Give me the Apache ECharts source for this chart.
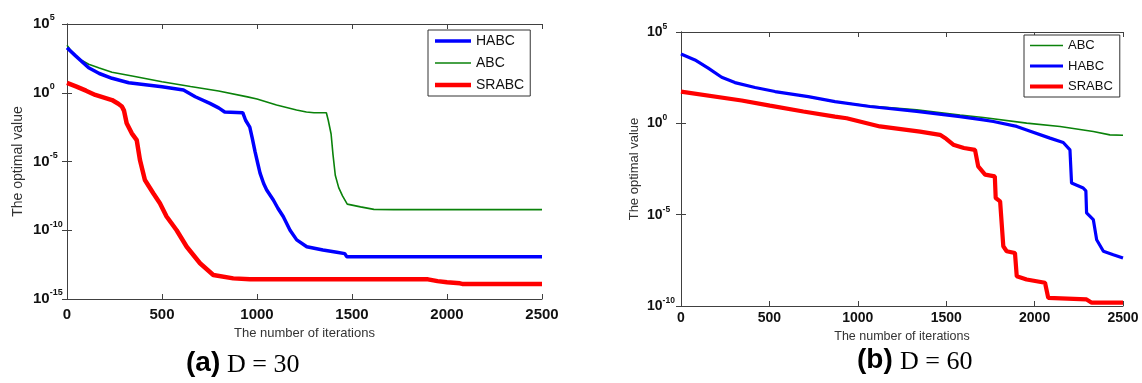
<!DOCTYPE html>
<html><head><meta charset="utf-8">
<script src="https://cdn.jsdelivr.net/npm/echarts@6/dist/echarts.min.js"></script>
<style>html,body{margin:0;padding:0;background:#fff}#c{width:1142px;height:383px}</style>
</head><body><div id="c"></div>
<script>
// ---- data: [iteration, log10(optimal value)] ----
const iterTicks = [0, 500, 1000, 1500, 2000, 2500];
const legend30 = ['HABC', 'ABC', 'SRABC'];
const legend60 = ['ABC', 'HABC', 'SRABC'];
const captionA = ['(a)', 'D = 30'];
const captionB = ['(b)', 'D = 60'];

const abc30 = [[0,3.45],[30,2.9],[60,2.5],[114,2.07],[170,1.8],[237,1.49],[350,1.2],[500,0.8],[650,0.45],[798,0.13],[950,-0.3],[1000,-0.45],[1103,-0.89],[1208,-1.25],[1260,-1.4],[1300,-1.45],[1365,-1.45],[1375,-2.0],[1390,-3.0],[1400,-4.5],[1412,-6.0],[1430,-6.9],[1450,-7.5],[1475,-8.1],[1545,-8.3],[1615,-8.48],[1720,-8.5],[2500,-8.5]];
const habc30 = [[0,3.28],[44,2.7],[114,1.82],[170,1.4],[237,1.05],[325,0.73],[500,0.44],[613,0.2],[675,-0.29],[752,-0.77],[798,-1.1],[830,-1.4],[925,-1.45],[940,-2.0],[962,-2.5],[975,-3.3],[990,-4.3],[1005,-5.2],[1016,-5.85],[1035,-6.6],[1051,-7.07],[1086,-7.8],[1110,-8.4],[1138,-9.0],[1174,-10.0],[1209,-10.7],[1262,-11.2],[1347,-11.44],[1420,-11.6],[1462,-11.7],[1472,-11.92],[2500,-11.92]];
const srabc30 = [[0,0.72],[50,0.45],[100,0.15],[149,-0.16],[237,-0.53],[270,-0.8],[289,-1.0],[300,-1.3],[314,-2.22],[341,-2.95],[367,-3.44],[384,-4.89],[410,-6.35],[454,-7.31],[489,-8.04],[524,-9.0],[577,-10.0],[630,-11.2],[700,-12.4],[770,-13.25],[875,-13.5],[963,-13.57],[1900,-13.57],[1950,-13.7],[2000,-13.78],[2068,-13.86],[2080,-13.9],[2500,-13.9]];

const abc60 = [[0,3.80],[79,3.47],[154,3.02],[230,2.52],[305,2.23],[419,1.96],[532,1.74],[720,1.46],[871,1.19],[1069,0.95],[1333,0.74],[1578,0.46],[1710,0.32],[1955,0.01],[2144,-0.17],[2332,-0.45],[2426,-0.63],[2500,-0.65]];
const habc60 = [[0,3.80],[79,3.47],[154,3.02],[230,2.52],[305,2.23],[419,1.96],[532,1.74],[720,1.46],[871,1.19],[1069,0.92],[1333,0.65],[1578,0.37],[1710,0.19],[1767,0.10],[1899,-0.17],[1955,-0.36],[2087,-0.81],[2162,-1.05],[2200,-1.45],[2209,-3.27],[2275,-3.54],[2290,-3.7],[2294,-4.9],[2332,-5.27],[2351,-6.37],[2389,-7.0],[2445,-7.19],[2500,-7.37]];
const srabc60 = [[0,1.74],[343,1.25],[503,0.97],[692,0.65],[871,0.37],[937,0.28],[1125,-0.17],[1352,-0.45],[1465,-0.63],[1500,-0.85],[1540,-1.17],[1600,-1.35],[1663,-1.45],[1681,-2.36],[1720,-2.81],[1775,-2.9],[1780,-4.09],[1805,-4.27],[1823,-6.73],[1842,-7.0],[1889,-7.1],[1899,-8.37],[1955,-8.55],[2059,-8.73],[2077,-9.55],[2294,-9.64],[2323,-9.82],[2500,-9.82]];

const toVal = arr => arr.map(p => [p[0], Math.pow(10, p[1])]);

const BLUE = '#0000ff', GREEN = '#0a820a', RED = '#ff0000', FRAME = '#404040';

function supFmt(v) {
  const e = Math.round(Math.log10(v));
  return '{b|10}{s|' + e + '}';
}
function yAxes(grid, min, max, fs, sfs, labelGap, nameFs) {
  return [{
    type: 'log', logBase: 10, gridIndex: grid, min: min, max: max, interval: 5,
    name: 'The optimal value', nameLocation: 'middle', nameGap: labelGap,
    nameTextStyle: {fontFamily: 'Liberation Sans', fontSize: nameFs, color: '#333'},
    axisLine: {show: true, lineStyle: {color: FRAME, width: 1}},
    axisTick: {show: true, inside: true, length: 5, lineStyle: {color: FRAME}},
    splitLine: {show: false}, minorTick: {show: false},
    axisLabel: {
      align: 'left', margin: 34, formatter: supFmt,
      rich: {
        b: {fontFamily: 'Liberation Sans', fontWeight: 'bold', fontSize: fs, lineHeight: fs + 6, color: '#111'},
        s: {fontFamily: 'Liberation Sans', fontWeight: 'bold', fontSize: sfs, lineHeight: sfs, verticalAlign: 'top', color: '#111'}
      }
    }
  }, {
    type: 'log', logBase: 10, gridIndex: grid, min: min, max: max, interval: 5, position: 'right',
    axisLine: {show: true, lineStyle: {color: FRAME, width: 1}},
    axisTick: {show: true, inside: true, length: 5, lineStyle: {color: FRAME}},
    axisLabel: {show: false}, splitLine: {show: false}
  }];
}
function xAxes(grid, fs, margin, nameGap, nameFs) {
  return [{
    type: 'value', gridIndex: grid, min: iterTicks[0], max: iterTicks[iterTicks.length - 1], interval: iterTicks[1] - iterTicks[0],
    name: 'The number of iterations', nameLocation: 'middle', nameGap: nameGap,
    nameTextStyle: {fontFamily: 'Liberation Sans', fontSize: nameFs, color: '#333'},
    axisLine: {show: true, lineStyle: {color: FRAME, width: 1}},
    axisTick: {show: true, inside: true, length: 5, lineStyle: {color: FRAME}},
    splitLine: {show: false},
    axisLabel: {margin: margin, fontFamily: 'Liberation Sans', fontWeight: 'bold', fontSize: fs, color: '#111', formatter: v => String(v)}
  }, {
    type: 'value', gridIndex: grid, min: iterTicks[0], max: iterTicks[iterTicks.length - 1], interval: iterTicks[1] - iterTicks[0], position: 'top',
    axisLine: {show: true, lineStyle: {color: FRAME, width: 1}},
    axisTick: {show: true, inside: true, length: 5, lineStyle: {color: FRAME}},
    axisLabel: {show: false}, splitLine: {show: false}
  }];
}
function line(name, data, color, width, xi, yi) {
  return {
    type: 'line', name: name, data: toVal(data), xAxisIndex: xi, yAxisIndex: yi,
    symbol: 'none', showSymbol: false, smooth: false, animation: false,
    lineStyle: {color: color, width: width}, itemStyle: {color: color}, z: 3
  };
}
const widths30 = {HABC: 3.5, ABC: 1.6, SRABC: 4.5};
const widths60 = {ABC: 1.6, HABC: 3.2, SRABC: 4.2};
const colors = {HABC: BLUE, ABC: GREEN, SRABC: RED};
// thin bar icon of a given thickness (aspect kept inside the legend box)
const barIcon = (w, t) => 'path://M0,0H' + w + 'V' + t + 'H0Z';

const option = {
  backgroundColor: '#fff',
  animation: false,
  grid: [
    {left: 67, top: 24, width: 475, height: 275, containLabel: false},
    {left: 681, top: 32, width: 442, height: 274, containLabel: false}
  ],
  xAxis: [].concat(xAxes(0, 15, 8, 23, 13), xAxes(1, 14, 5, 21, 12.5)),
  yAxis: [].concat(yAxes(0, 1e-15, 1e5, 15, 9, 42, 14), yAxes(1, 1e-10, 1e5, 14, 8.5, 40, 13)),
  legend: [
    {
      orient: 'vertical', left: 428, top: 30, padding: [4, 6, 4, 7], itemGap: 8,
      itemWidth: 36, itemHeight: 14, borderColor: '#333', borderWidth: 1, backgroundColor: '#fff',
      textStyle: {fontFamily: 'Liberation Sans', fontSize: 14, color: '#111'},
      selectedMode: false, symbolKeepAspect: true,
      data: legend30.map(n => ({name: n, icon: barIcon(36, widths30[n]), itemStyle: {color: colors[n], borderWidth: 0}}))
    },
    {
      orient: 'vertical', left: 1024, top: 35, padding: [4, 7, 4, 6], itemGap: 7.5,
      itemWidth: 33, itemHeight: 13, borderColor: '#333', borderWidth: 1, backgroundColor: '#fff',
      textStyle: {fontFamily: 'Liberation Sans', fontSize: 13, color: '#111'},
      selectedMode: false, symbolKeepAspect: true,
      data: legend60.map(n => ({name: n, icon: barIcon(33, widths60[n]), itemStyle: {color: colors[n], borderWidth: 0}}))
    }
  ],
  series: [
    line('ABC', abc30, GREEN, widths30.ABC, 0, 0),
    line('HABC', habc30, BLUE, widths30.HABC, 0, 0),
    line('SRABC', srabc30, RED, widths30.SRABC, 0, 0),
    line('ABC', abc60, GREEN, widths60.ABC, 2, 2),
    line('HABC', habc60, BLUE, widths60.HABC, 2, 2),
    line('SRABC', srabc60, RED, widths60.SRABC, 2, 2)
  ],
  graphic: [
    {type: 'text', left: 186, top: 349, style: {text: captionA[0], font: 'bold 28px "Liberation Sans"', fill: '#000'}},
    {type: 'text', left: 227, top: 352, style: {text: captionA[1], font: '26px "Liberation Serif"', fill: '#000'}},
    {type: 'text', left: 857, top: 346, style: {text: captionB[0], font: 'bold 28px "Liberation Sans"', fill: '#000'}},
    {type: 'text', left: 900, top: 349, style: {text: captionB[1], font: '26px "Liberation Serif"', fill: '#000'}}
  ]
};
const chart = echarts.init(document.getElementById('c'), null, {renderer: 'canvas'});
chart.setOption(option);
</script></body></html>
